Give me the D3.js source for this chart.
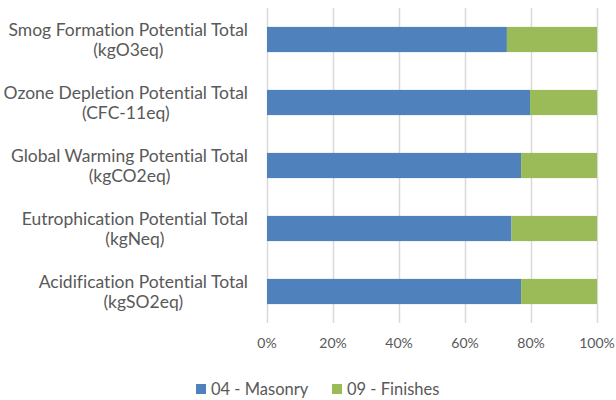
<!DOCTYPE html>
<html>
<head>
<meta charset="utf-8">
<script src="https://cdn.jsdelivr.net/npm/d3@7"></script>
<style>
body{margin:0;background:#fff;}
text{font-family:Lato,"Open Sans",sans-serif;fill:#595959;font-variant-ligatures:none;}
</style>
</head>
<body>
<svg id="chart" width="616" height="400"></svg>
<script>
// categories top to bottom
var categories = [
    ["Smog Formation Potential Total","(kgO3eq)"],
    ["Ozone Depletion Potential Total","(CFC-11eq)"],
    ["Global Warming Potential Total","(kgCO2eq)"],
    ["Eutrophication Potential Total","(kgNeq)"],
    ["Acidification Potential Total","(kgSO2eq)"]
];
var masonry = [72.7, 79.7, 77.0, 74.1, 77.0];
var finishes = [27.3, 20.3, 23.0, 25.9, 23.0];
var seriesNames = ["04 - Masonry","09 - Finishes"];
var colors = ["#4F81BD","#9BBB59"];
var ticks = [0,20,40,60,80,100];

var svg = d3.select("#chart");
var x = d3.scaleLinear().domain([0,100]).range([267,597]);
var y = d3.scaleBand().domain(d3.range(categories.length)).range([8,323]).paddingInner(0.6).paddingOuter(0.3);

// grille
svg.append("g").selectAll("line").data(ticks).enter().append("line")
    .attr("x1",d=>x(d)+0.5).attr("x2",d=>x(d)+0.5)
    .attr("y1",8).attr("y2",323)
    .style("stroke","#D9D9D9").style("stroke-width",1.5);

var stacked = categories.map((c,i)=>[
    {s:0,x0:0,x1:masonry[i],i:i},
    {s:1,x0:masonry[i],x1:masonry[i]+finishes[i],i:i}
]);
svg.append("g").selectAll("g").data(stacked).enter().append("g")
    .selectAll("rect").data(d=>d).enter().append("rect")
    .attr("x",d=>x(d.x0)).attr("width",d=>x(d.x1)-x(d.x0))
    .attr("y",d=>y(d.i)).attr("height",y.bandwidth())
    .style("fill",d=>colors[d.s]);

// axe x
svg.append("g").selectAll("text").data(ticks).enter().append("text")
    .attr("x",d=>x(d)).attr("y",348)
    .attr("text-anchor","middle").style("font-size","14px")
    .text(d=>d+"%");

// etiquettes des categories (centrees, alignees a droite)
categories.forEach(function(c,i){
    var cy = y(i)+y.bandwidth()/2;
    var g = svg.append("g");
    var t1 = g.append("text").attr("y",cy-4).style("font-size","17.5px").text(c[0]);
    var w = t1.node().getComputedTextLength();
    var cx = 248-w/2;
    t1.attr("x",cx).attr("text-anchor","middle");
    g.append("text").attr("x",cx).attr("y",cy+16.5).attr("text-anchor","middle").style("font-size","17.5px").text(c[1]);
});

// legende
var legX = [196,332];
var leg = svg.append("g").selectAll("g").data(seriesNames).enter().append("g");
leg.append("rect").attr("x",(d,i)=>legX[i]).attr("y",384).attr("width",10).attr("height",10)
    .style("fill",(d,i)=>colors[i]);
leg.append("text").attr("x",(d,i)=>legX[i]+15).attr("y",395).style("font-size","16.5px").text(d=>d);
</script>
</body>
</html>
